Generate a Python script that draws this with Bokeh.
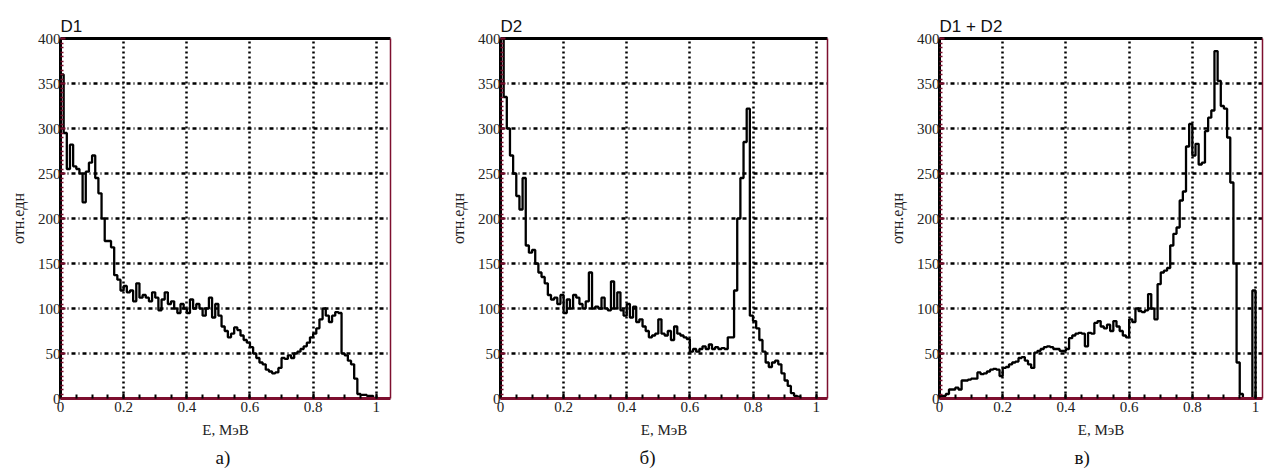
from bokeh.plotting import figure
from bokeh.layouts import row
from bokeh.models import (Range1d, LinearAxis, SingleIntervalTicker, FixedTicker,
                          NumeralTickFormatter, Title)
from bokeh.embed import file_html
from bokeh.resources import INLINE
import numpy as np

BIN = 0.01  # bin width, MeV

# D1 spectrum (bins of 0.01 MeV starting at 0)
d1 = [360, 295, 255, 282, 258, 255, 250, 218, 252, 262,
      270, 245, 228, 200, 175, 175, 168, 137, 132, 120,
      125, 118, 120, 108, 128, 112, 115, 112, 108, 118,
      112, 98, 110, 118, 105, 108, 100, 95, 105, 100,
      95, 110, 100, 105, 100, 92, 100, 112, 90, 105,
      92, 80, 75, 68, 72, 79, 76, 70, 65, 62,
      57, 50, 45, 40, 38, 32, 30, 28, 29, 34,
      45, 44, 48, 45, 50, 52, 55, 58, 62, 68,
      72, 78, 88, 100, 92, 85, 92, 96, 95, 50,
      48, 42, 38, 22, 5, 4, 4, 3, 3, 0]

# D2 spectrum
d2 = [410, 335, 300, 270, 250, 225, 210, 245, 170, 162,
      165, 150, 140, 135, 128, 115, 110, 112, 105, 115,
      95, 110, 100, 115, 112, 105, 100, 108, 140, 100,
      102, 100, 112, 100, 98, 130, 100, 118, 98, 92,
      105, 90, 102, 85, 88, 80, 75, 68, 70, 72,
      88, 72, 70, 75, 65, 80, 72, 70, 68, 66,
      52, 55, 52, 55, 58, 55, 60, 55, 57, 55,
      56, 55, 68, 68, 120, 200, 245, 285, 322, 92,
      86, 78, 65, 52, 40, 35, 40, 42, 38, 28,
      20, 14, 6, 3, 2, 0]

# D1 + D2 spectrum
d3 = [3, 3, 5, 10, 10, 12, 10, 20, 20, 21,
      22, 22, 29, 27, 28, 30, 32, 33, 32, 25,
      34, 35, 38, 40, 41, 45, 46, 42, 38, 34,
      51, 53, 55, 57, 58, 57, 55, 55, 53, 53,
      55, 67, 70, 72, 73, 72, 58, 73, 72, 84,
      86, 80, 78, 82, 75, 86, 80, 75, 70, 68,
      88, 85, 100, 97, 96, 98, 116, 100, 88, 127,
      140, 142, 145, 170, 183, 190, 220, 230, 280, 305,
      270, 283, 260, 262, 297, 312, 320, 386, 353, 325,
      322, 290, 240, 150, 40, 5, 0, 0, 0, 120, 0]

titles = ["D1", "D2", "D1 + D2"]
sublabels = ["а)", "б)", "в)"]
x_label = "E, МэВ"
y_label = "отн.едн"

MAROON = "#7d0f2e"
SERIF = "Liberation Serif"


def panel(title, vals, width, x_end, right_border, sub, sub_offset):
    p = figure(width=width, height=475, x_range=Range1d(0, x_end), y_range=Range1d(0, 400),
               output_backend="svg", toolbar_location=None,
               min_border_left=60, min_border_right=right_border,
               min_border_top=38, min_border_bottom=77)
    p.outline_line_color = None
    p.background_fill_color = "white"
    p.border_fill_color = "white"

    p.title.text = title
    p.title.text_font = "Liberation Sans"
    p.title.text_font_size = "17px"
    p.title.text_font_style = "normal"
    p.title.text_color = "#111111"
    p.title.align = "left"
    p.title.standoff = 6

    xt = SingleIntervalTicker(interval=0.2, num_minor_ticks=4)
    yt = SingleIntervalTicker(interval=50, num_minor_ticks=10)
    xa = p.xaxis[0]
    ya = p.yaxis[0]
    xa.ticker = xt
    ya.ticker = yt
    p.xgrid.ticker = xt
    p.ygrid.ticker = yt
    xa.formatter = NumeralTickFormatter(format="0.[0]")

    xa.axis_line_color = MAROON
    xa.axis_line_width = 3
    xa.major_tick_line_color = "black"
    xa.minor_tick_line_color = "black"
    xa.major_tick_line_width = 2
    xa.minor_tick_line_width = 2
    xa.major_tick_in = 5
    xa.major_tick_out = 0
    xa.minor_tick_in = 4
    xa.minor_tick_out = 0
    xa.major_label_standoff = 3
    xa.major_label_text_font = SERIF
    xa.major_label_text_font_size = "15px"
    xa.major_label_text_color = "#222222"
    xa.axis_label = x_label
    xa.axis_label_text_font = SERIF
    xa.axis_label_text_font_size = "15px"
    xa.axis_label_text_font_style = "normal"
    xa.axis_label_text_color = "#222222"
    xa.axis_label_standoff = 7

    ya.axis_line_color = "black"
    ya.axis_line_width = 3
    ya.major_tick_line_color = MAROON
    ya.minor_tick_line_color = MAROON
    ya.major_tick_line_width = 2
    ya.minor_tick_line_width = 1.5
    ya.major_tick_in = 5
    ya.major_tick_out = 0
    ya.minor_tick_in = 3
    ya.minor_tick_out = 0
    ya.major_label_standoff = 0
    ya.major_label_text_font = SERIF
    ya.major_label_text_font_size = "15px"
    ya.major_label_text_color = "#222222"
    ya.axis_label = y_label
    ya.axis_label_text_font = SERIF
    ya.axis_label_text_font_size = "16px"
    ya.axis_label_text_font_style = "normal"
    ya.axis_label_text_color = "#222222"
    ya.axis_label_standoff = 8

    top = LinearAxis(ticker=FixedTicker(ticks=[]), axis_line_color="black", axis_line_width=3,
                     major_tick_line_color=None, minor_tick_line_color=None)
    p.add_layout(top, "above")
    right = LinearAxis(ticker=FixedTicker(ticks=[]), axis_line_color=MAROON, axis_line_width=1.5,
                       major_tick_line_color=None, minor_tick_line_color=None)
    p.add_layout(right, "right")

    p.xgrid.grid_line_color = "black"
    p.xgrid.grid_line_width = 2.5
    p.xgrid.grid_line_dash = "2 3"
    p.ygrid.grid_line_color = "black"
    p.ygrid.grid_line_width = 2.5
    p.ygrid.grid_line_dash = "4 3 1 3"

    edges = np.round(np.arange(len(vals) + 1) * BIN, 4)
    yv = list(vals) + [vals[-1]]
    p.step(edges, yv, mode="after", line_color="black", line_width=2.3)

    sub_title = Title(text=sub, align="left", offset=sub_offset, standoff=9,
                      text_font=SERIF, text_font_size="19px", text_font_style="normal",
                      text_color="#111111")
    p.add_layout(sub_title, "below")
    return p


p1 = panel(titles[0], d1, 440, 1.045, 50, sublabels[0], 155)
p2 = panel(titles[1], d2, 439, 1.036, 52, sublabels[1], 139)
p3 = panel(titles[2], d3, 385, 1.022, 2, sublabels[2], 135)

layout = row(p1, p2, p3, spacing=0)
open("out.html", "w").write(file_html(layout, INLINE))
